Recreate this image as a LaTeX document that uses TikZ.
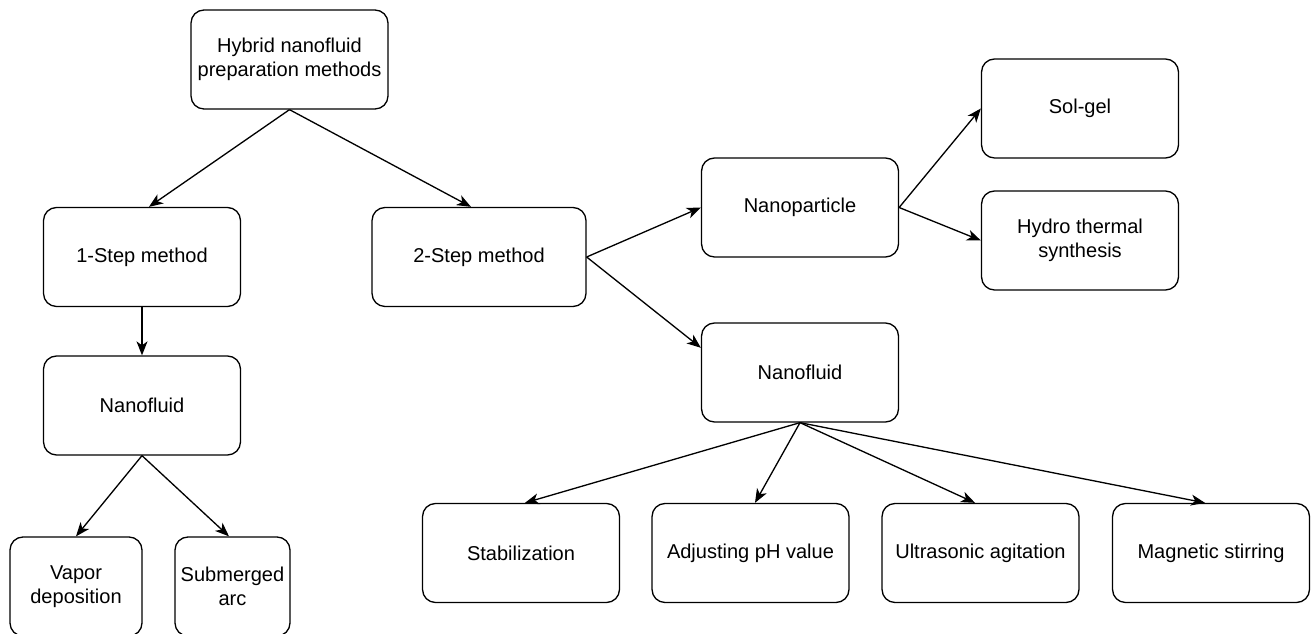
\documentclass[tikz,border=0pt]{standalone}
\usepackage{fontspec}
\setmainfont{Liberation Sans}
\usetikzlibrary{arrows.meta}

\begin{document}
\begin{tikzpicture}[
  x=0.02cm, y=-0.02cm,
  box/.style={draw, rounded corners=0.26cm, align=center, minimum width=3.94cm, minimum height=1.98cm, inner sep=0pt, line width=0.75pt, fill=white, font=\fontsize{11.4}{13.7}\selectfont},
  wide/.style={box, minimum width=4.28cm},
  arrow/.style={-{Stealth[length=2.8mm, width=2.2mm, inset=0.8mm]}, line width=0.75pt}
]
\useasboundingbox (0,0) rectangle (1312,634);
\node[box] (hybrid) at (289.5,59.5) {Hybrid nanofluid\\preparation methods};
\node[box] (onestep) at (142,257) {1-Step method};
\node[wide] (twostep) at (479,257) {2-Step method};
\node[box] (nfone) at (142,405.5) {Nanofluid};
\node[box, minimum width=2.64cm] (vapor) at (76,586.5) {Vapor\\deposition};
\node[box, minimum width=2.3cm] (arc) at (232.5,586.5) {Submerged\\arc};
\node[box] (particle) at (800,207.5) {Nanoparticle};
\node[box] (solgel) at (1080,108.5) {Sol-gel};
\node[box] (hydro) at (1080,240.5) {Hydro thermal\\synthesis};
\node[box] (nftwo) at (800,372.5) {Nanofluid};
\node[box] (stab) at (521,553) {Stabilization};
\node[box] (ph) at (750.5,553) {Adjusting pH value};
\node[box] (ultra) at (980.5,553) {Ultrasonic agitation};
\node[box] (magnet) at (1211,553) {Magnetic stirring};
\draw[arrow] (hybrid.south) -- ([xshift=0.14cm]onestep.north);
\draw[arrow] (hybrid.south) -- ([xshift=-0.16cm]twostep.north);
\draw[arrow] (onestep) -- (nfone);
\draw[arrow] (nfone.south) -- (vapor.north);
\draw[arrow] (nfone.south) -- ([xshift=-0.07cm]arc.north);
\draw[arrow] (twostep.east) -- (particle.west);
\draw[arrow] (twostep.east) -- (nftwo.166);
\draw[arrow] (particle.east) -- (solgel.west);
\draw[arrow] (particle.east) -- (hydro.west);
\draw[arrow] (nftwo.south) -- ([xshift=0.08cm]stab.north);
\draw[arrow] (nftwo.south) -- ([xshift=0.09cm]ph.north);
\draw[arrow] (nftwo.south) -- ([xshift=-0.11cm]ultra.north);
\draw[arrow] (nftwo.south) -- ([xshift=-0.12cm]magnet.north);
\end{tikzpicture}
\end{document}
